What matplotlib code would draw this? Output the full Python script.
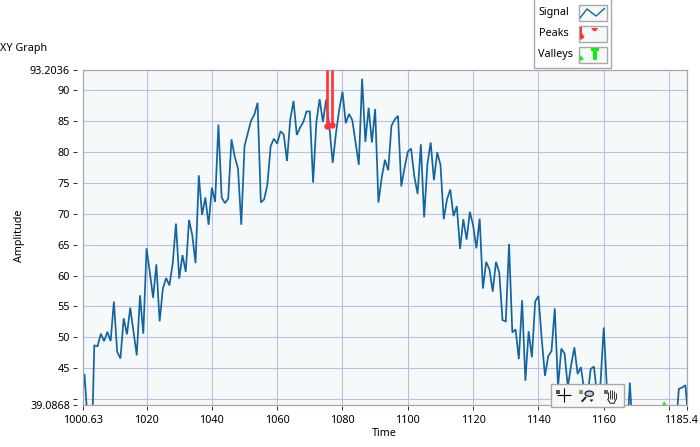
import numpy as np
import matplotlib
matplotlib.use("Agg")
import matplotlib.pyplot as plt
from matplotlib.patches import Rectangle, Circle, Polygon
from matplotlib.lines import Line2D
from matplotlib.transforms import ScaledTranslation

# ---- data
time_start = 1000
signal = [38.8,44.1,36,28,48.7,48.6,50.6,49.4,50.9,49.4,
          55.8,47.7,46.6,53.1,50.5,54.8,50.9,47.1,56.8,50.6,
          64.4,60.5,56.4,61.8,52.6,57.9,59.6,58.4,61.9,68.4,
          59.5,63.3,60.6,69.0,66.5,62,76.2,69.8,72.6,68.2,
          74.2,71.9,84.4,72.6,71.7,72.4,82,79.2,77.3,68.2,
          80.9,83,85,86,87.9,71.8,72.3,74.7,80.9,82.1,
          81.3,83.3,82.8,78.5,85.2,88.2,82.7,83.9,84.8,86.5,
          86.5,75,84.8,88.5,84.8,88.4,83.9,78.2,83,86.8,
          89.7,84.6,86.1,85.1,81.5,77.9,91.8,81.6,87.1,81.5,
          86.9,71.8,75.8,78.7,77,84.2,85.2,85.8,74.4,77.4,
          80,80.5,76,73.2,81.2,69.4,78,81.5,75.4,79.9,
          77.9,69.1,72.3,73.9,69.6,71.2,64.3,69.1,65.8,70.3,
          68.1,64.4,69.2,57.9,62.2,61,57.4,62.2,60.5,52.8,
          52.6,65.1,50.8,51.3,46.5,56,43,51,46.8,55.8,
          56.7,49.8,43.8,47,47.8,54.7,42,48.2,47.4,42,
          45.5,48.4,44.1,45.2,41.5,40.4,44.9,45.3,40.4,42.6,
          51.6,41.5,38.5,37,36,36,35,33,42.7,33,
          34,35,36,36,37,36,36,37,36,36,
          36,36,34.8,41.7,41.9,42.3,36]
peak_x = [1075.4, 1076.7]
peak_y = [84.1, 84.3]
valley_x = [1178.5]
valley_y = [39.4]
x_ticks = [1000.63,1020,1040,1060,1080,1100,1120,1140,1160,1180,1185.4]
x_labels = ["1000.63","1020","1040","1060","1080","1100","1120","1140","1160","","1185.4"]
y_ticks = [39.0868,40,45,50,55,60,65,70,75,80,85,90,93.2036]
y_labels = ["39.0868","","45","50","55","60","65","70","75","80","85","90","93.2036"]
x_min, x_max = 1000.63, 1185.4
y_min, y_max = 39.0868, 93.2036
legend_names = ["Signal","Peaks","Valleys"]

LINE = "#1464A0"; RED = "#FF3333"; GREEN = "#10F010"
GRID = "#BCBCE8"; BG = "#F5F9FA"; FRAME = "#A8A8A8"; TICK = "#333333"
plt.rcParams['font.family'] = ['Noto Sans', 'DejaVu Sans']
FS = 7.8
W, H = 700, 447
fig = plt.figure(figsize=(W/100, H/100), dpi=100)
L, R, T, B = 83.3, 686.7, 70, 405
ax = fig.add_axes([L/W, 1-B/H, (R-L)/W, (B-T)/H])
ax.set_xlim(x_min, x_max); ax.set_ylim(y_min, y_max)
ax.set_facecolor(BG)
ax.set_axisbelow(True)

xs = time_start + np.arange(len(signal))
ax.plot(xs, signal, color=LINE, lw=1.25, solid_joinstyle='miter', zorder=3)
ax.vlines(peak_x, peak_y, y_max, color=RED, lw=1.9, zorder=4)
ax.plot(peak_x, peak_y, 'o', color=RED, ms=4.6, mew=0, zorder=4)
ax.plot(valley_x, valley_y, '^', color=GREEN, ms=3.6, mew=0, zorder=4)

ax.set_xticks(x_ticks); ax.set_xticklabels(x_labels)
ax.set_yticks(y_ticks); ax.set_yticklabels(y_labels)
ax.grid(True, color=GRID, lw=0.75)
ax.tick_params(axis='y', length=3.1, width=0.72, color=TICK, pad=2.2, labelsize=FS, labelcolor='black')
ax.tick_params(axis='x', length=3.2, width=0.72, color=TICK, pad=2.8, labelsize=FS, labelcolor='black')
for s in ('top','right'):
    ax.spines[s].set_color(FRAME); ax.spines[s].set_linewidth(0.9)
ax.spines['left'].set_position(('outward', 4.3))
ax.spines['bottom'].set_position(('outward', 1.0))
ax.spines['left'].set_color('none')
ax.spines['bottom'].set_color('none')
# inner frame edges
ax.plot([0,0],[0,1], transform=ax.transAxes, color=FRAME, lw=0.9, clip_on=False, zorder=5)
ax.plot([0,1],[0,0], transform=ax.transAxes, color=FRAME, lw=0.9, clip_on=False, zorder=5)
last = ax.get_xticklabels()[-1]
last.set_transform(last.get_transform() + ScaledTranslation(-4/72, 0, fig.dpi_scale_trans))

def P(x, y):
    return (x/W, 1-y/H)
def rect(x0, y0, x1, y1, fc, ec=None, lw=1.0, z=10):
    fig.add_artist(Rectangle(P(x0, y1), (x1-x0)/W, (y1-y0)/H, transform=fig.transFigure,
                             facecolor=fc, edgecolor=ec if ec else 'none', lw=lw, zorder=z))
def line(pts, c, lw=1.0, z=12):
    a = [P(*p) for p in pts]
    fig.add_artist(Line2D([p[0] for p in a],[p[1] for p in a], transform=fig.transFigure,
                          color=c, lw=lw, zorder=z, solid_capstyle='butt'))
def poly(pts, c, z=12):
    fig.add_artist(Polygon([P(*p) for p in pts], closed=True, transform=fig.transFigure,
                           facecolor=c, edgecolor='none', zorder=z))
def txt(x, y, s, **kw):
    fig.text(x/W, 1-y/H, s, fontsize=FS, color='black', zorder=12, **kw)

txt(0, 48.5, "XY Graph", ha='left', va='center')
txt(384, 434, "Time", ha='center', va='center')
txt(19.5, 236, "Amplitude", ha='center', va='center', rotation=90)

# legend
rect(533.5, -2, 610.5, 67.5, 'white', FRAME, 1.0)
ys = [12.5, 33.5, 54.5]
for name, yc in zip(legend_names, ys):
    txt(538.5, yc, name, ha='left', va='center')
    rect(578.5, yc-8, 606.5, yc+8, BG, FRAME, 1.0, z=11)
line([(580,18),(587,9),(596,16),(605,8)], LINE, 1.0)
poly([(580,27),(582,27),(582,33),(584.5,37),(582,39.5),(580,39.5)], RED)
poly([(591,28),(598,28),(597,30),(595,31.5),(593,30.5)], RED)
poly([(580,55),(584,59),(580,61)], GREEN)
poly([(591,48),(598.5,48),(598.5,51),(596.5,51),(596.5,60),(593,60),(593,51),(591,51)], GREEN)

# toolbar
rect(551, 383.5, 623.5, 406.5, '#F7F7F7', FRAME, 1.0)
for qx, qc in [(557.7,'#555555'),(581.3,'#77AA55'),(605.7,'#666666')]:
    rect(qx-2, 389.5, qx+2, 393.5, qc, z=12)
line([(563.7,388),(563.7,402)], 'black', 0.8)
line([(556.5,395.3),(571,395.3)], 'black', 0.8)
fig.add_artist(Circle(P(589.3,393.7), 4.2/W, transform=fig.transFigure, facecolor='#C8C8F0',
                      edgecolor='#222222', lw=0.9, zorder=12))
line([(586,397),(581.7,401.7)], '#222222', 1.4)
poly([(589.5,399.5),(593.5,399.5),(591.5,402)], '#222222')
for hx, y0 in [(607.5,392),(609.7,390),(612,389.5),(614.2,391),(616,393)]:
    line([(hx,y0),(hx,399)], '#333333', 0.7)
line([(607.5,399),(610,403),(614,403.5),(616,399)], '#333333', 0.8)

fig.savefig("out.png", dpi=100)
